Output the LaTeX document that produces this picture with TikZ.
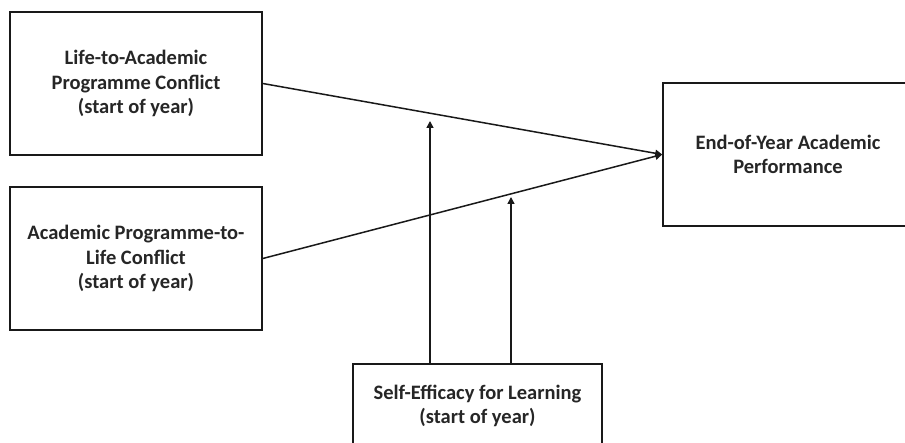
\documentclass[tikz,border=0pt]{standalone}
\usepackage{fontspec}
\setmainfont{Carlito}
\usetikzlibrary{arrows.meta}
\begin{document}
\begin{tikzpicture}[x=1pt,y=-1pt,
  box/.style={draw=black!90, line width=1.6pt, fill=white, align=center, inner sep=0pt,
    font=\fontsize{20.5pt}{24.5pt}\selectfont\bfseries, text=black!85},
  conn/.style={line width=1.5pt, draw=black!90},
  arr/.style={conn, -{Triangle[length=7pt,width=7pt]}}]
\useasboundingbox (0,0) rectangle (905,443);
\clip (0,0) rectangle (905,443);
\fill[white] (0,0) rectangle (905,443);
\node[box, minimum width=252pt, minimum height=143pt] (b1) at (136,83.5)
  {Life-to-Academic\\Programme Conflict\\(start of year)};
\node[box, minimum width=252pt, minimum height=143pt] (b2) at (136,258.5)
  {Academic Programme-to-\\Life Conflict\\(start of year)};
\node[box, minimum width=250pt, minimum height=143pt] (b3) at (788,154.5)
  {End-of-Year Academic\\Performance};
\node[box, minimum width=249pt, minimum height=84pt] (b4) at (477.5,406)
  {Self-Efficacy for Learning\\(start of year)};
\coordinate (t1) at (430,121);
\coordinate (t2) at (511,197);
\draw[arr] (b1.east) -- (b3.west);
\draw[arr] (b2.east) -- (b3.west);
\draw[arr] (b4.north -| t1) -- (t1);
\draw[arr] (b4.north -| t2) -- (t2);
\end{tikzpicture}
\end{document}
